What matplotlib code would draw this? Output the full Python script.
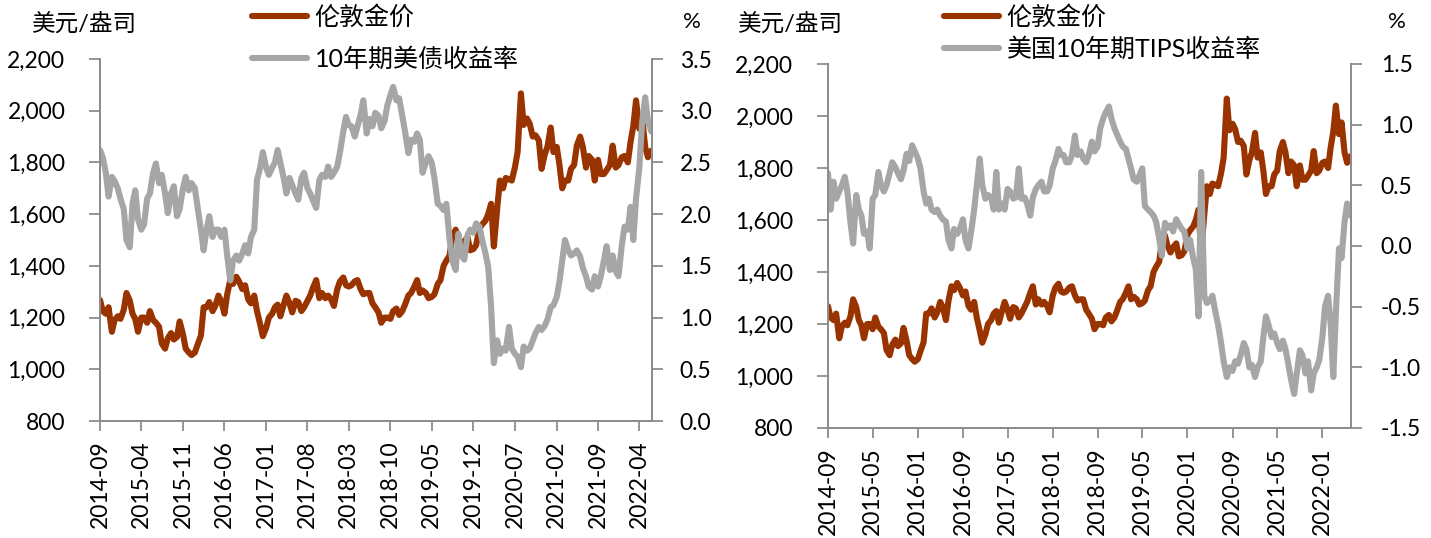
import matplotlib
matplotlib.use('Agg')
import matplotlib.pyplot as plt
import pandas as pd

plt.rcParams['font.family'] = ['Lato', 'Noto Sans CJK SC', 'DejaVu Sans']

# semi-monthly observations, 2014-09-01 .. 2022-06-01
dates = pd.date_range('2014-09-01', '2022-06-01', freq='SMS')

# London gold, USD/oz
gold = [
    1268, 1225, 1215, 1240, 1145, 1190, 1205, 1195,
    1230, 1295, 1265, 1215, 1195, 1145, 1200, 1200, 1180, 1225, 1190, 1180,
    1165, 1100, 1080, 1120, 1140, 1115, 1125, 1185, 1135, 1080, 1065, 1055,
    1065, 1095, 1130, 1240, 1240, 1260, 1225, 1245, 1285, 1265, 1215, 1290,
    1345, 1330, 1358, 1340, 1310, 1325, 1270, 1255, 1285, 1225, 1175, 1128,
    1160, 1200, 1215, 1240, 1250, 1205, 1250, 1285, 1255, 1220, 1265, 1260,
    1225, 1240, 1265, 1285, 1320, 1345, 1275, 1295, 1275, 1285, 1270, 1245,
    1310, 1340, 1355, 1325, 1320, 1325, 1340, 1345, 1310, 1290, 1295, 1295,
    1255, 1240, 1220, 1180, 1200, 1200, 1195, 1225, 1235, 1210, 1225, 1250,
    1285, 1295, 1320, 1345, 1295, 1305, 1295, 1275, 1280, 1290, 1330, 1345,
    1400, 1420, 1440, 1515, 1540, 1500, 1475, 1495, 1510, 1460, 1465, 1480,
    1545, 1560, 1575, 1600, 1640, 1475, 1620, 1730, 1700, 1740, 1735, 1730,
    1780, 1840, 2067, 1945, 1970, 1950, 1900, 1905, 1885, 1775, 1830, 1860,
    1935, 1840, 1860, 1790, 1700, 1730, 1730, 1775, 1790, 1865, 1900, 1860,
    1780, 1825, 1810, 1730, 1810, 1755, 1755, 1770, 1790, 1865, 1780, 1790,
    1820, 1825, 1800, 1880, 1940, 2040, 1930, 1975, 1860, 1820, 1845,
]

# US 10y treasury yield, %
ust10 = [
    2.62, 2.55, 2.40, 2.17, 2.36, 2.32, 2.25, 2.15,
    2.05, 1.75, 1.68, 2.10, 2.23, 1.95, 1.85, 1.90, 2.15, 2.20, 2.40, 2.49,
    2.30, 2.38, 2.20, 2.01, 2.20, 2.27, 1.98, 2.05, 2.25, 2.36, 2.23, 2.30,
    2.25, 2.07, 1.85, 1.65, 1.85, 1.98, 1.78, 1.85, 1.85, 1.78, 1.85, 1.60,
    1.36, 1.55, 1.60, 1.55, 1.62, 1.70, 1.62, 1.78, 1.85, 2.33, 2.45, 2.60,
    2.45, 2.38, 2.45, 2.50, 2.62, 2.50, 2.35, 2.20, 2.35, 2.28, 2.20, 2.14,
    2.35, 2.40, 2.25, 2.20, 2.12, 2.06, 2.33, 2.38, 2.36, 2.46, 2.36, 2.40,
    2.46, 2.60, 2.80, 2.94, 2.86, 2.85, 2.75, 2.85, 2.96, 3.10, 2.78, 2.92,
    2.85, 2.98, 2.95, 2.83, 2.90, 3.05, 3.15, 3.23, 3.10, 3.12, 2.95, 2.80,
    2.59, 2.72, 2.70, 2.78, 2.72, 2.40, 2.50, 2.56, 2.50, 2.35, 2.10, 2.08,
    2.04, 2.10, 1.75, 1.55, 1.46, 1.81, 1.60, 1.56, 1.80, 1.85, 1.82, 1.91,
    1.88, 1.75, 1.62, 1.49, 1.10, 0.56, 0.78, 0.65, 0.70, 0.68, 0.91, 0.70,
    0.65, 0.62, 0.52, 0.72, 0.68, 0.70, 0.78, 0.85, 0.91, 0.88, 0.92, 0.98,
    1.10, 1.12, 1.20, 1.35, 1.55, 1.75, 1.65, 1.60, 1.62, 1.65, 1.59, 1.48,
    1.40, 1.30, 1.27, 1.40, 1.30, 1.40, 1.55, 1.69, 1.46, 1.60, 1.45, 1.40,
    1.70, 1.88, 1.85, 2.07, 1.75, 2.15, 2.45, 2.88, 3.13, 2.90, 2.80,
]

# US 10y TIPS yield, %
tips10 = [
    0.60, 0.30, 0.53, 0.39, 0.45, 0.50, 0.57, 0.45,
    0.19, 0.02, 0.42, 0.30, 0.25, 0.10, 0.12, -0.02, 0.39, 0.42, 0.61, 0.50,
    0.45, 0.50, 0.60, 0.69, 0.65, 0.60, 0.55, 0.62, 0.76, 0.70, 0.83, 0.78,
    0.72, 0.64, 0.45, 0.35, 0.39, 0.30, 0.28, 0.30, 0.25, 0.22, 0.20, 0.05,
    -0.02, 0.14, 0.10, 0.14, 0.22, 0.05, -0.02, 0.11, 0.30, 0.50, 0.72, 0.50,
    0.39, 0.42, 0.40, 0.30, 0.61, 0.30, 0.35, 0.30, 0.47, 0.45, 0.39, 0.40,
    0.64, 0.39, 0.40, 0.35, 0.25, 0.40, 0.47, 0.50, 0.53, 0.45, 0.45, 0.50,
    0.64, 0.70, 0.80, 0.75, 0.75, 0.69, 0.69, 0.75, 0.91, 0.75, 0.78, 0.72,
    0.69, 0.75, 0.86, 0.78, 0.82, 0.97, 1.05, 1.10, 1.15, 1.05, 0.97, 0.92,
    0.86, 0.82, 0.80, 0.72, 0.64, 0.55, 0.53, 0.58, 0.64, 0.33, 0.30, 0.28,
    0.25, 0.20, 0.06, -0.08, 0.19, 0.15, 0.17, 0.12, 0.22, 0.18, 0.14, 0.12,
    -0.02, 0.05, -0.10, -0.19, -0.58, 0.61, -0.41, -0.47, -0.45, -0.41, -0.55, -0.65,
    -0.80, -0.95, -1.08, -1.00, -1.03, -0.95, -0.97, -0.90, -0.80, -0.85, -1.00, -0.98,
    -1.08, -1.00, -0.95, -0.75, -0.58, -0.65, -0.75, -0.72, -0.80, -0.85, -0.78, -0.85,
    -0.98, -1.10, -1.22, -1.05, -0.86, -0.90, -1.05, -0.95, -1.19, -1.05, -1.00, -0.94,
    -0.75, -0.50, -0.41, -0.65, -1.08, -0.55, -0.02, -0.10, 0.20, 0.35, 0.25,
]

left_ticks = ['2014-09', '2015-04', '2015-11', '2016-06', '2017-01', '2017-08', '2018-03',
              '2018-10', '2019-05', '2019-12', '2020-07', '2021-02', '2021-09', '2022-04']
right_ticks = ['2014-09', '2015-05', '2016-01', '2016-09', '2017-05', '2018-01',
               '2018-09', '2019-05', '2020-01', '2020-09', '2021-05', '2022-01']

gold_ticks = [800, 1000, 1200, 1400, 1600, 1800, 2000, 2200]

GOLD_C = '#993300'
GRAY_C = '#A6A6A6'
AXIS_C = '#8C8C8C'
LW = 4.4
W, H = 1431, 538


def panel(rect, rate, rlim, rticks, xticks, rate_label, pads, leg):
    ax = fig.add_axes(rect)
    ax2 = ax.twinx()
    ax.plot(dates, gold, color=GOLD_C, lw=LW, solid_capstyle='round', solid_joinstyle='round')
    ax2.plot(dates, rate, color=GRAY_C, lw=LW, solid_capstyle='round', solid_joinstyle='round')
    ax.set_xlim(pd.Timestamp('2014-09-01'), pd.Timestamp('2022-06-05'))
    ax.set_ylim(800, 2200)
    ax.set_yticks(gold_ticks)
    ax.set_yticklabels(['{:,}'.format(v) for v in gold_ticks])
    ax2.set_ylim(*rlim)
    ax2.set_yticks(rticks)
    ax2.set_yticklabels(['%.1f' % v for v in rticks])
    ax.set_xticks(pd.to_datetime(xticks))
    ax.set_xticklabels(xticks, rotation=90)
    for a in (ax, ax2):
        a.spines['top'].set_visible(False)
        for s in ('left', 'right', 'bottom'):
            a.spines[s].set_color(AXIS_C)
            a.spines[s].set_linewidth(1.3)
    ax.tick_params(axis='y', length=8, width=1.3, color=AXIS_C, pad=pads[0], labelsize=16.5)
    ax2.tick_params(axis='y', length=8, width=1.3, color=AXIS_C, pad=pads[1], labelsize=16.5)
    ax.tick_params(axis='x', length=7, width=1.3, color=AXIS_C, pad=7, labelsize=16.5)
    h1, = ax.plot([], [], color=GOLD_C, lw=LW, solid_capstyle='round')
    h2, = ax.plot([], [], color=GRAY_C, lw=LW, solid_capstyle='round')
    fig.legend([h1, h2], ['伦敦金价', rate_label], loc='upper left',
               bbox_to_anchor=(leg[0] / W, 1 - leg[1] / H), frameon=False, fontsize=18,
               handlelength=2.2, handletextpad=0.3, labelspacing=leg[2],
               borderpad=0, borderaxespad=0)
    return ax, ax2


fig = plt.figure(figsize=(W / 100, H / 100), dpi=100)

panel([100 / W, 1 - 421 / H, 552 / W, 362 / H], ust10, (0, 3.5),
      [0, 0.5, 1.0, 1.5, 2.0, 2.5, 3.0, 3.5], left_ticks, '10年期美债收益率',
      (17, 12), (252, 5, 0.72))
panel([828 / W, 1 - 428 / H, 523 / W, 364 / H], tips10, (-1.5, 1.5),
      [-1.5, -1.0, -0.5, 0.0, 0.5, 1.0, 1.5], right_ticks, '美国10年期TIPS收益率',
      (17, 13.5), (944, 5, 0.32))

fig.text(32 / W, 1 - 23 / H, '美元/盎司', fontsize=17, ha='left', va='center')
fig.text(692 / W, 1 - 22 / H, '%', fontsize=16, ha='center', va='center')
fig.text(738 / W, 1 - 23 / H, '美元/盎司', fontsize=17, ha='left', va='center')
fig.text(1397 / W, 1 - 22 / H, '%', fontsize=16, ha='center', va='center')

fig.savefig('out.png', dpi=100)
